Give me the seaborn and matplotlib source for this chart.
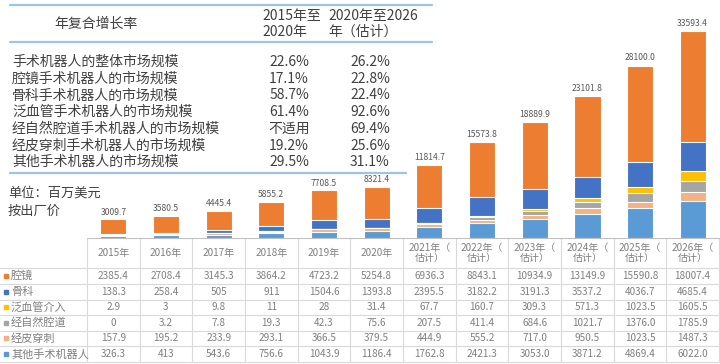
import numpy as np
import pandas as pd
import matplotlib
matplotlib.use("Agg")
import matplotlib.pyplot as plt
from matplotlib.lines import Line2D
import seaborn as sns

# ---- data ----
years = ["2015年", "2016年", "2017年", "2018年", "2019年", "2020年",
         "2021年（\n估计）", "2022年（\n估计）", "2023年（\n估计）",
         "2024年（\n估计）", "2025年（\n估计）", "2026年（\n估计）"]
series_names = ["腔镜", "骨科", "泛血管介入", "经自然腔道", "经皮穿刺", "其他手术机器人"]
laparoscopic = [2385.4, 2708.4, 3145.3, 3864.2, 4723.2, 5254.8, 6936.3, 8843.1, 10934.9, 13149.9, 15590.8, 18007.4]
orthopedic = [138.3, 258.4, 505, 911, 1504.6, 1393.8, 2395.5, 3182.2, 3191.3, 3537.2, 4036.7, 4685.4]
vascular = [2.9, 3, 9.8, 11, 28, 31.4, 67.7, 160.7, 309.3, 571.3, 1023.5, 1605.5]
natural_orifice = [0, 3.2, 7.8, 19.3, 42.3, 75.6, 207.5, 411.4, 684.6, 1021.7, 1376.0, 1785.9]
percutaneous = [157.9, 195.2, 233.9, 293.1, 366.5, 379.5, 444.9, 555.2, 717.0, 950.5, 1023.5, 1487.3]
others = [326.3, 413, 543.6, 756.6, 1043.9, 1186.4, 1762.8, 2421.3, 3053.0, 3871.2, 4869.4, 6022.0]
totals = [3009.7, 3580.5, 4445.4, 5855.2, 7708.5, 8321.4, 11814.7, 15573.8, 18889.9, 23101.8, 28100.0, 33593.4]

cagr_labels = ["手术机器人的整体市场规模", "腔镜手术机器人的市场规模", "骨科手术机器人的市场规模",
               "泛血管手术机器人的市场规模", "经自然腔道手术机器人的市场规模",
               "经皮穿刺手术机器人的市场规模", "其他手术机器人的市场规模"]
cagr_2015_2020 = ["22.6%", "17.1%", "58.7%", "61.4%", "不适用", "19.2%", "29.5%"]
cagr_2020_2026 = ["26.2%", "22.8%", "22.4%", "92.6%", "69.4%", "25.6%", "31.1%"]

colors = ["#ED7D31", "#4472C4", "#FFC000", "#A5A5A5", "#F4B183", "#5B9BD5"]

sns.set_style("white")
plt.rcParams["font.family"] = ["Noto Sans CJK SC", "DejaVu Sans"]

W, H = 720, 364
fig = plt.figure(figsize=(7.2, 3.64), dpi=100)


def fx(px):
    return px / W


def fy(py):
    return 1 - py / H


# ---- stacked bars ----
ax = fig.add_axes([fx(87), fy(238), fx(632), 238 / H])
data = pd.DataFrame({"year": years})
stack = [others, percutaneous, natural_orifice, vascular, orthopedic, laparoscopic]
stack_colors = colors[::-1]
cum = np.cumsum(np.array(stack), axis=0)
# draw from the top layer down so lower layers overlay
for k in range(len(stack) - 1, -1, -1):
    data["v"] = cum[k]
    sns.barplot(data=data, x="year", y="v", color=stack_colors[k], width=0.5,
                edgecolor="white", linewidth=0.8, saturation=1, ax=ax)
for i, t in enumerate(totals):
    ax.text(i, t + 450, f"{t:.1f}", ha="center", va="bottom", fontsize=6.2, color="#595959")
ax.set_xlim(-0.5, 11.5)
ax.set_ylim(0, 38620)
ax.axis("off")

# ---- data table under the bars ----
col_w = 632 / 12
tax = fig.add_axes([0, 0, 1, (H - 238) / H])
x0 = -0.5 - 87 / col_w
tax.set_xlim(x0, 11.5 + 1 / col_w)
tax.set_ylim(H, 238)
tax.axis("off")
grid_c = "#D9D9D9"
row_lines = [268, 284, 299.5, 315, 330.5, 346, 362]
for k in range(13):
    tax.plot([-0.5 + k, -0.5 + k], [238, 362], color=grid_c, lw=0.8)
tax.plot([-0.5, 11.5], [238, 238], color="#BFBFBF", lw=0.8)
for yl in row_lines:
    tax.plot([x0, 11.5], [yl, yl], color=grid_c, lw=0.8)
for i, y in enumerate(years):
    tax.text(i, 253, y, ha="center", va="center", fontsize=7.2, color="#808080", linespacing=1.1)
rows = [laparoscopic, orthopedic, vascular, natural_orifice, percutaneous, others]
for r, (name, vals) in enumerate(zip(series_names, rows)):
    yc = (row_lines[r] + row_lines[r + 1]) / 2
    tax.plot([x0 + 5 / col_w + 0.02], [yc], marker="s", ms=3.2, color=colors[r], ls="none")
    tax.text(x0 + 11 / col_w, yc, name, ha="left", va="center", fontsize=8, color="#808080")
    for i, v in enumerate(vals):
        s = f"{v:g}" if i < 6 else f"{v:.1f}"
        tax.text(i, yc, s, ha="center", va="center", fontsize=7.2, color="#808080")

# ---- CAGR summary at top-left ----
line_c = "#9DC3E6"
fig.add_artist(Line2D([fx(10), fx(432)], [fy(5), fy(5)], color=line_c, lw=1.6))
fig.add_artist(Line2D([fx(10), fx(432)], [fy(42), fy(42)], color=line_c, lw=1.6))
fig.add_artist(Line2D([fx(10), fx(406)], [fy(173), fy(173)], color=line_c, lw=1.6))
txt = "#404040"
fig.text(fx(96), fy(24), "年复合增长率", ha="center", va="center", fontsize=10, color=txt)
fig.text(fx(262), fy(24), "2015年至\n2020年", ha="left", va="center", fontsize=10, color=txt, linespacing=1.15)
fig.text(fx(328), fy(24), "2020年至2026\n年（估计）", ha="left", va="center", fontsize=10, color=txt, linespacing=1.15)
for r, (lab, a, b) in enumerate(zip(cagr_labels, cagr_2015_2020, cagr_2020_2026)):
    yy = 62 + r * 16.7
    fig.text(fx(12), fy(yy), lab, ha="left", va="center", fontsize=10, color=txt)
    fig.text(fx(289), fy(yy), a, ha="center", va="center", fontsize=10, color=txt)
    fig.text(fx(370), fy(yy), b, ha="center", va="center", fontsize=10, color=txt)

fig.text(fx(8), fy(193), "单位：百万美元", ha="left", va="center", fontsize=9.5, color=txt)
fig.text(fx(8), fy(211), "按出厂价", ha="left", va="center", fontsize=9.5, color=txt)

fig.savefig("out.png", dpi=100)
